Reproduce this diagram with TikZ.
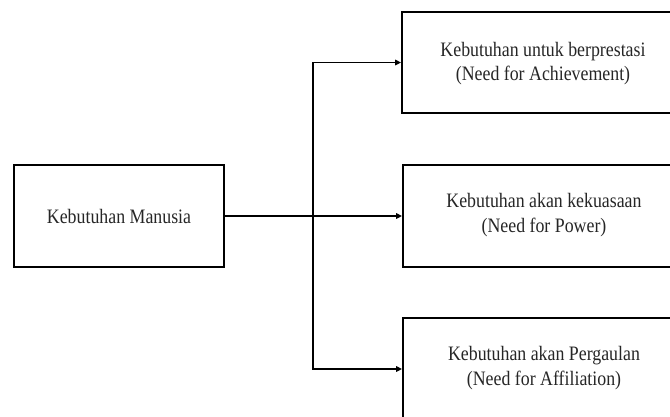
\documentclass[tikz,border=0pt]{standalone}
\usepackage{fontspec}
\setmainfont{Liberation Serif}
\usetikzlibrary{arrows.meta}
\newcommand{\sqz}[1]{\scalebox{0.87}[1]{#1}}
\begin{document}
\begin{tikzpicture}[x=1pt,y=-1pt,
  box/.style={draw=black, line width=1.8pt, inner sep=0pt},
  txt/.style={align=center, font=\fontsize{20.5}{24.5}\selectfont, inner sep=0pt, text=black!85},
  arr/.style={line width=1.7pt, -{Triangle[length=6pt,width=5.5pt]}}]
\useasboundingbox (0,0) rectangle (670,416);
\clip (0,0) rectangle (670,416);
\node[box, minimum width=210, minimum height=102] (L) at (119,216) {};
\node[txt] at (L.center) {\sqz{Kebutuhan Manusia}};
\node[box, minimum width=282, minimum height=101] (T) at (543,62.5) {};
\node[txt] at ([yshift=-1]T.center) {\sqz{Kebutuhan untuk berprestasi}\\\sqz{(Need for Achievement)}};
\node[box, minimum width=282, minimum height=102] (M) at (544,216) {};
\node[txt] at ([yshift=1]M.center) {\sqz{Kebutuhan akan kekuasaan}\\\sqz{(Need for Power)}};
\node[box, minimum width=282, minimum height=102] (B) at (544,369) {};
\node[txt] at ([yshift=1]B.center) {\sqz{Kebutuhan akan Pergaulan}\\\sqz{(Need for Affiliation)}};
\coordinate (j) at (313,216);
\draw[arr] (L.east) -- (M.west);
\draw[arr] (j) |- (T.west);
\draw[arr] (j) |- (B.west);
\end{tikzpicture}
\end{document}
